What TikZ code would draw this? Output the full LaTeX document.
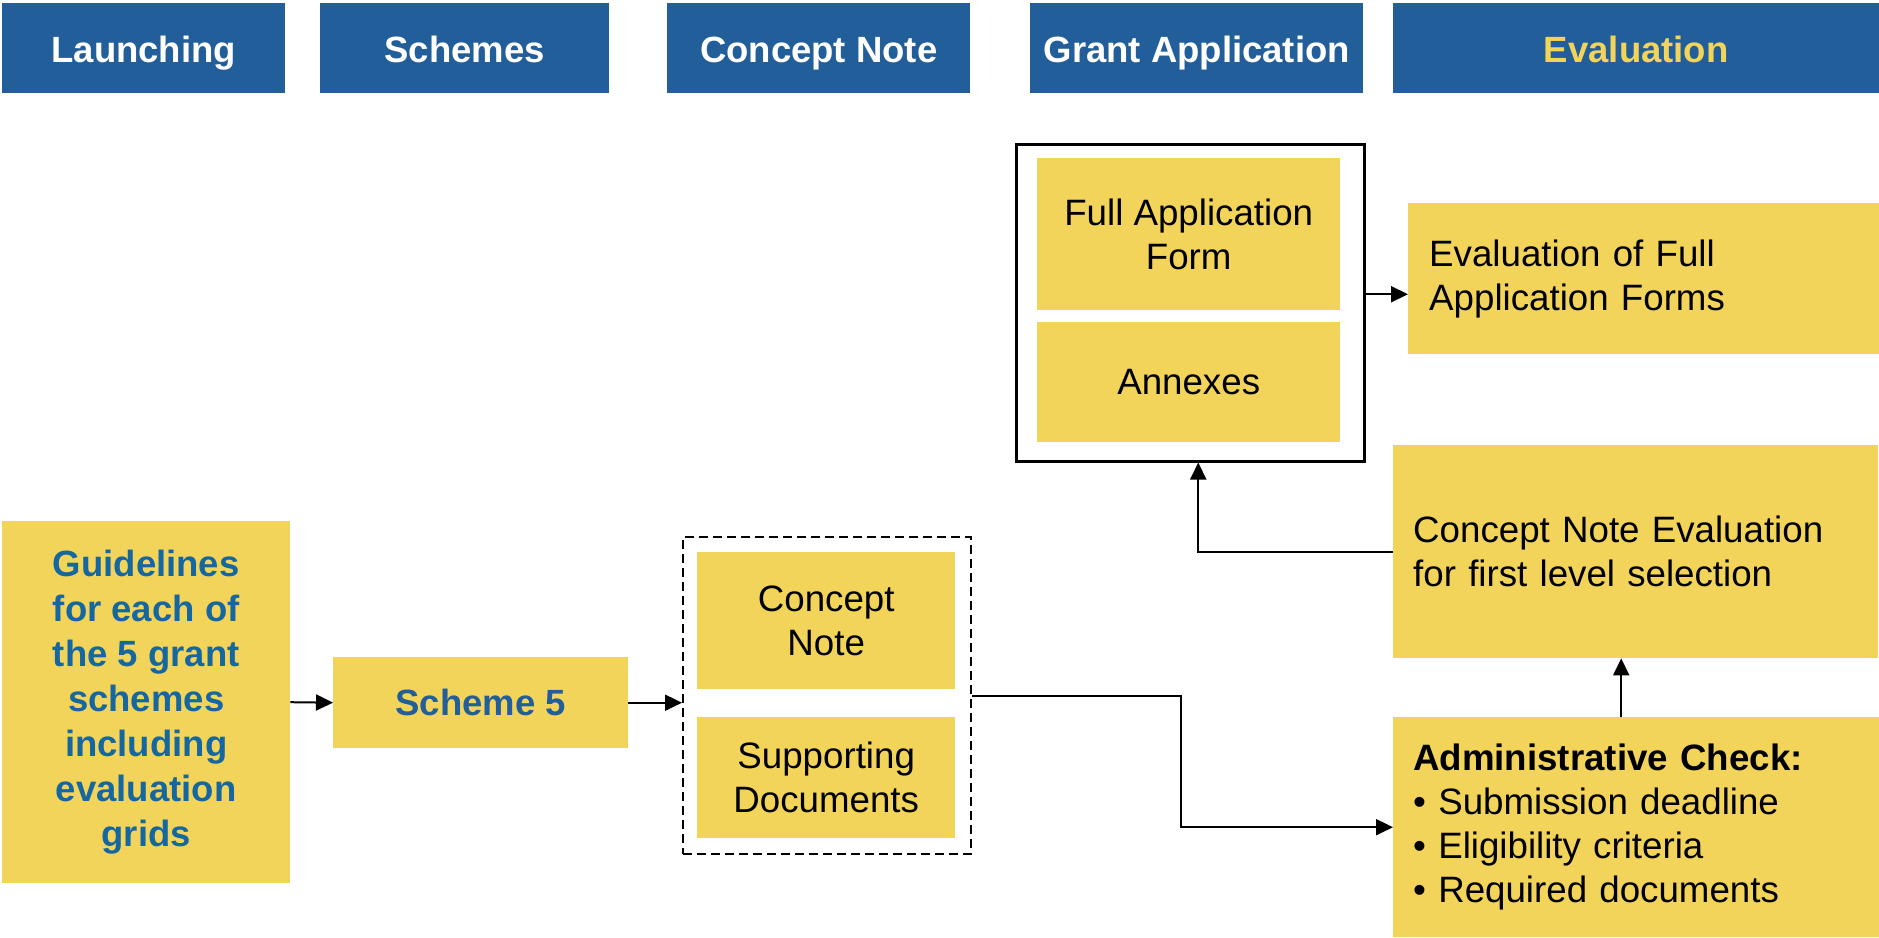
\documentclass[tikz,border=0pt]{standalone}
\usepackage{fontspec}
\setmainfont{Liberation Sans}
\usetikzlibrary{arrows.meta,calc}
\definecolor{hblue}{HTML}{225E99}
\definecolor{yel}{HTML}{F3D45A}
\definecolor{gblue}{HTML}{1467A0}
\begin{document}
\begin{tikzpicture}[x=1pt,y=-1pt,
  hdr/.style={fill=hblue,text=white,font=\fontsize{36.5}{44}\selectfont\bfseries,inner sep=0pt,anchor=north west,minimum height=90pt,text height=28pt,text depth=0pt},
  ybox/.style={fill=yel,inner sep=0pt,anchor=north west,align=center,font=\fontsize{36.7}{44}\selectfont},
  lbox/.style={ybox,align=left},
  arr/.style={line width=2pt,-{Triangle[length=17pt,width=16pt]}},
  ]
\useasboundingbox (0,0) rectangle (1879,937);
% headers
\node[hdr,minimum width=283pt] (h1) at (2,3) {Launching};
\node[hdr,minimum width=289pt] (h2) at (320,3) {Schemes};
\node[hdr,minimum width=303pt] (h3) at (667,3) {Concept Note};
\node[hdr,minimum width=333pt] (h4) at (1030,3) {Grant Application};
\node[hdr,minimum width=486pt,text=yel] (h5) at (1393,3) {Evaluation};
% left boxes
\node[ybox,minimum width=288pt,minimum height=362pt,text=gblue,font=\fontsize{36.5}{45}\selectfont\bfseries] (guide) at (2,521)
  {Guidelines\\for each of\\the 5 grant\\schemes\\including\\evaluation\\grids};
\node[ybox,minimum width=295pt,minimum height=91pt,text=hblue,font=\fontsize{36.5}{44}\selectfont\bfseries] (s5) at (333,657) {Scheme 5};
% concept note group
\node[draw,line width=2pt,dash pattern=on 9pt off 5pt,inner sep=0pt,anchor=north west,minimum width=288pt,minimum height=317pt] (cbox) at (682,536) {};
\node[ybox,minimum width=258pt,minimum height=137pt] (cn) at (697,552) {Concept\\Note};
\node[ybox,minimum width=258pt,minimum height=121pt] (sd) at (697,717) {Supporting\\Documents};
% full application group
\node[draw,line width=2.5pt,inner sep=0pt,anchor=north west,minimum width=348pt,minimum height=317pt] (fao) at (1015,143) {};
\node[ybox,minimum width=303pt,minimum height=152pt] (faf) at (1037,158) {Full Application\\Form};
\node[ybox,minimum width=303pt,minimum height=120pt] (ann) at (1037,322) {Annexes};
% evaluation boxes
\node[lbox,minimum width=471pt,minimum height=151pt,text width=429pt] (evf) at (1408,203) {Evaluation of Full\\Application Forms};
\node[lbox,minimum width=485pt,minimum height=213pt,text width=445pt] (cne) at (1393,445) {Concept Note Evaluation\\for first level selection};
\node[lbox,minimum width=486pt,minimum height=220pt,text width=446pt] (adm) at (1393,717) {\textbf{Administrative Check:}\\• Submission deadline\\• Eligibility criteria\\• Required documents};
% connectors
\coordinate (k1) at (1181,695);
\draw[arr] (guide.east) -- (s5.west);
\draw[arr] (s5.east) -- (s5.east -| cbox.west);
\draw[arr] (cbox.east) -- (cbox.east -| k1) -- (k1 |- adm.west) -- (adm.west);
\draw[arr] ([xshift=-15pt]adm.north) -- ([xshift=-15pt]adm.north |- cne.south);
\draw[arr] (cne.west) -| ([xshift=8pt]fao.south);
\draw[arr] ([yshift=8.5pt]fao.east) -- ([yshift=8.5pt]fao.east -| evf.west);
\end{tikzpicture}
\end{document}
